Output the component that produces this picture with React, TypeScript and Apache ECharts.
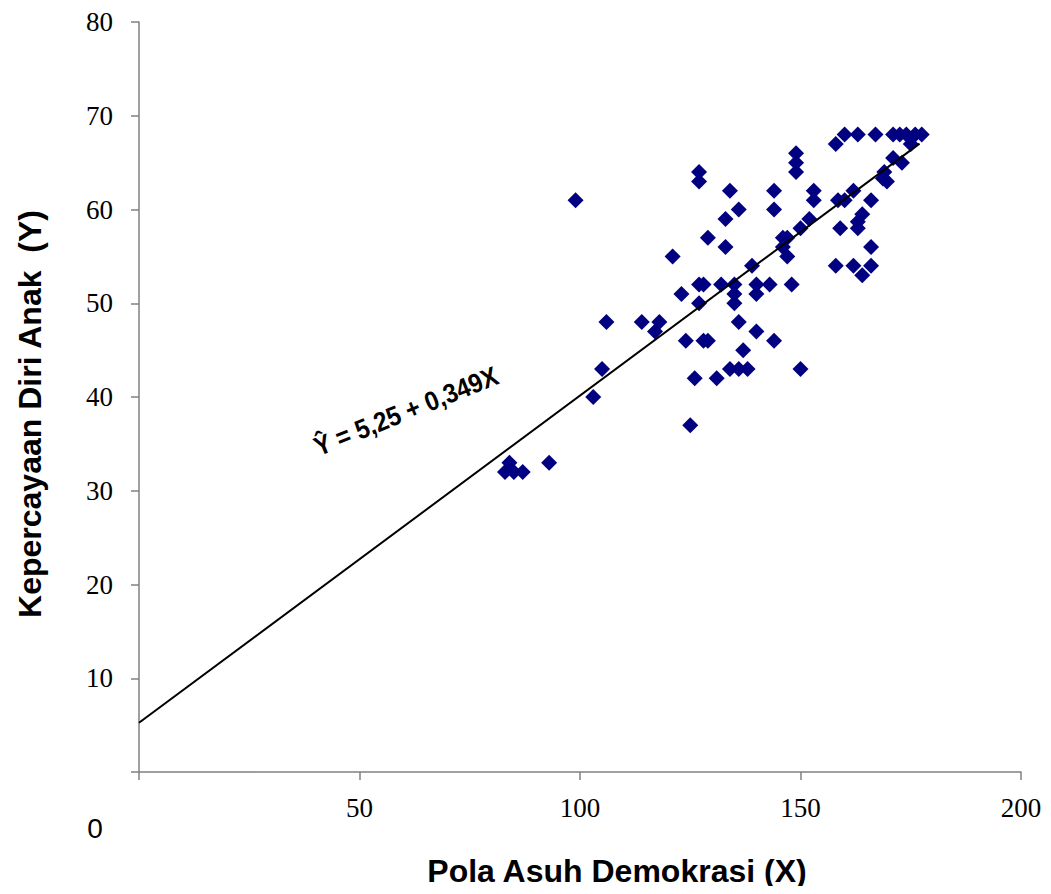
import React, { useEffect, useRef } from "react";
import * as echarts from "echarts";

const xValues = [
  83, 84, 85, 87, 93,
  99, 103, 105, 106, 114, 117, 118,
  121, 123, 124, 125, 126,
  127, 127, 127, 128, 127, 128, 129, 129,
  131, 132, 133, 133, 134,
  135, 135, 135, 134, 136, 138, 136, 136, 137,
  139, 140, 140, 140, 143, 144, 144, 144,
  146, 147, 146, 147, 148,
  149, 149, 149, 150, 150, 152, 153, 153,
  158, 160, 163, 167, 171, 172.5, 174, 176, 177.5, 175,
  171, 173, 169, 168.7, 169.6, 162, 158.5, 160, 166,
  164, 163, 159, 163, 166, 158, 162, 166, 164,
];
const yValues = [
  32, 33, 32, 32, 33,
  61, 40, 43, 48, 48, 47, 48,
  55, 51, 46, 37, 42,
  64, 63, 52, 52, 50, 46, 46, 57,
  42, 52, 59, 56, 62,
  52, 51, 50, 43, 43, 43, 48, 60, 45,
  54, 52, 51, 47, 52, 62, 60, 46,
  57, 57, 56, 55, 52,
  66, 65, 64, 58, 43, 59, 62, 61,
  67, 68, 68, 68, 68, 68, 68, 68, 68, 67,
  65.5, 65, 64, 63.3, 63, 62, 61, 61, 61,
  59.5, 58.7, 58, 58, 56, 54, 54, 54, 53,
];

const intercept = 5.25;
const slope = 0.349;
const lineX = [0, 177];

const xTicks = { min: 0, max: 200, interval: 50 };
const yTicks = { min: 0, max: 80, interval: 10 };

export default function App() {
  const ref = useRef<HTMLDivElement>(null);
  useEffect(() => {
    if (!ref.current) return;
    const chart = echarts.init(ref.current, null, { renderer: "svg" });
    const points = xValues.map((x, i) => [x, yValues[i]]);
    const linePts = lineX.map((x) => [x, intercept + slope * x]);
    const axisColor = "#808080";
    const labelStyle = {
      fontFamily: "Liberation Serif",
      fontSize: 27,
      color: "#000",
      formatter: (v: number) => (v === 0 ? "" : String(v)),
    };
    chart.setOption({
      animation: false,
      backgroundColor: "#ffffff",
      grid: { left: 139, right: 30, top: 22, bottom: 122 },
      xAxis: {
        type: "value",
        min: xTicks.min,
        max: xTicks.max,
        interval: xTicks.interval,
        splitLine: { show: false },
        axisLine: { show: true, onZero: false, lineStyle: { color: axisColor, width: 1.5 } },
        axisTick: { show: true, length: 8, lineStyle: { color: axisColor, width: 1.5 } },
        axisLabel: { ...labelStyle, margin: 22 },
      },
      yAxis: {
        type: "value",
        min: yTicks.min,
        max: yTicks.max,
        interval: yTicks.interval,
        splitLine: { show: false },
        axisLine: { show: true, onZero: false, lineStyle: { color: axisColor, width: 1.5 } },
        axisTick: { show: true, length: 8, lineStyle: { color: axisColor, width: 1.5 } },
        axisLabel: { ...labelStyle, margin: 26 },
      },
      series: [
        {
          type: "line",
          data: linePts,
          symbol: "none",
          lineStyle: { color: "#000", width: 2 },
          z: 3,
        },
        {
          type: "scatter",
          data: points,
          symbol: "diamond",
          symbolSize: 16,
          itemStyle: { color: "#000080", opacity: 1 },
          z: 2,
        },
      ],
      graphic: [
        {
          type: "text",
          x: 95,
          y: 828,
          style: {
            text: "0",
            font: "28px 'Liberation Sans'",
            fill: "#000",
            align: "center",
            verticalAlign: "middle",
          },
        },
        {
          type: "text",
          x: 617,
          y: 871,
          style: {
            text: "Pola Asuh Demokrasi (X)",
            font: "bold 32px 'Liberation Sans'",
            fill: "#000",
            align: "center",
            verticalAlign: "middle",
          },
        },
        {
          type: "text",
          x: 30,
          y: 414,
          rotation: Math.PI / 2,
          style: {
            text: "Kepercayaan Diri Anak  (Y)",
            font: "bold 32px 'Liberation Sans'",
            fill: "#000",
            align: "center",
            verticalAlign: "middle",
          },
        },
        {
          type: "text",
          x: 406,
          y: 411,
          rotation: (22 * Math.PI) / 180,
          scaleX: 0.9,
          style: {
            text: "Ŷ = 5,25 + 0,349X",
            font: "bold 27px 'Liberation Sans'",
            fill: "#000",
            align: "center",
            verticalAlign: "middle",
          },
        },
      ],
    });
    return () => chart.dispose();
  }, []);
  return <div ref={ref} style={{ width: 1051, height: 894, margin: -8 }} />;
}
